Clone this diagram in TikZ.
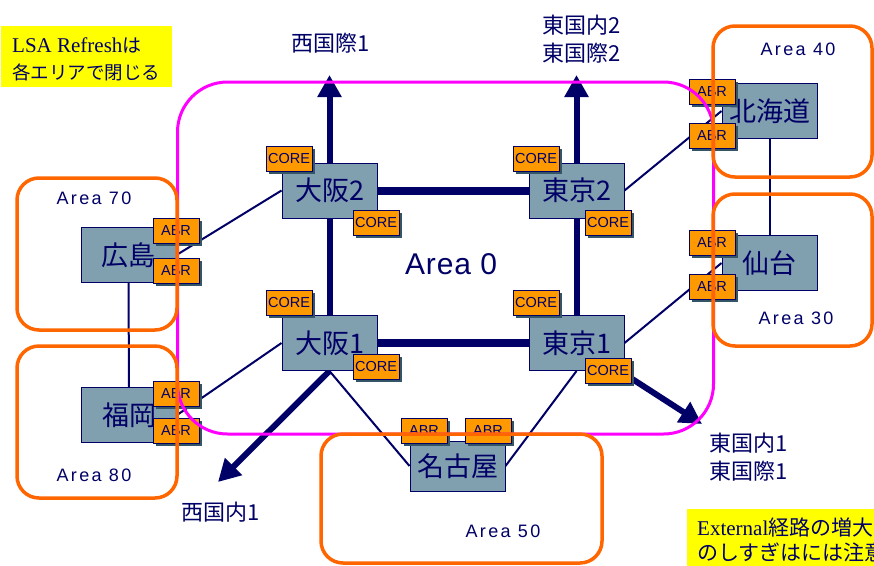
\documentclass[tikz,border=0pt]{standalone}
\usepackage{fontspec}
\setmainfont{Liberation Sans}
\newfontfamily\jp{Noto Sans CJK JP}
\newfontfamily\serif{Liberation Serif}
\newfontfamily\areaf[LetterSpace=13]{Liberation Sans}
\newfontfamily\areab[LetterSpace=3]{Liberation Sans}
\usetikzlibrary{arrows.meta,shadows}
\definecolor{navy}{RGB}{0,0,102}
\definecolor{nodefill}{RGB}{128,159,175}
\definecolor{boxorange}{RGB}{255,153,0}
\definecolor{areaorange}{RGB}{255,102,0}
\definecolor{mag}{RGB}{255,0,255}
\definecolor{shad}{RGB}{51,85,102}
\definecolor{yel}{RGB}{255,255,0}
\pgfdeclarelayer{bg}
\pgfdeclarelayer{fg}
\pgfsetlayers{bg,main,fg}
\tikzset{
  router/.style={draw=navy, line width=1pt, fill=nodefill, minimum width=95pt, minimum height=55pt, inner sep=0pt, font=\jp\fontsize{27}{27}\selectfont, text=navy},
  tagbox/.style={draw=navy, line width=1pt, fill=boxorange, minimum width=46pt, minimum height=25pt, inner sep=0pt, text=navy, font=\fontsize{14.5}{14.5}\selectfont, drop shadow={shadow xshift=2.5pt, shadow yshift=-2.5pt, fill=shad, opacity=1}},
  areabox/.style={draw=areaorange, line width=3.5pt, rounded corners=22pt},
  thinlink/.style={draw=navy, line width=2pt},
  thicklink/.style={draw=navy, line width=8pt},
  vlink/.style={draw=navy, line width=6pt},
  bigarrow/.style={draw=navy, line width=6pt, -{Triangle[width=23pt,length=22pt]}},
  routelabel/.style={text=navy, font=\jp\fontsize{22}{28}\selectfont, align=center, inner sep=0pt},
  arealabel/.style={text=navy, font=\areaf\fontsize{18}{18}\selectfont, inner sep=0pt},
  note/.style={text=navy, inner sep=0pt, anchor=base west}
}
\begin{document}
\begin{tikzpicture}[x=1pt,y=-1pt]
\useasboundingbox (0,0) rectangle (874,565);
\clip (0,0) rectangle (874,565);
% notes
\fill[yel] (1,26) rectangle (172,87);
\node[note] (n1a) at (12,52) {\serif\fontsize{21}{21}\selectfont LSA Refresh\jp\fontsize{19}{19}\selectfont は};
\node[note] (n1b) at (12,79) {\jp\fontsize{18.5}{18.5}\selectfont 各エリアで閉じる};
\fill[yel] (687,509) rectangle (880,570);
\node[note] (n2a) at (697,535) {\serif\fontsize{21}{21}\selectfont External\jp\fontsize{21}{21}\selectfont 経路の増大};
\node[note] (n2b) at (697,560) {\jp\fontsize{21}{21}\selectfont のしすぎはには注意};
% routers
\node[router] (osaka2) at (329.5,190.5) {大阪2};
\node[router] (tokyo2) at (576.5,190.5) {東京2};
\node[router] (osaka1) at (329.5,343) {大阪1};
\node[router] (tokyo1) at (576.5,343) {東京1};
\node[router, minimum height=50pt] (nagoya) at (457.5,466) {名古屋};
\node[router] (hiroshima) at (128.5,255) {広島};
\node[router] (fukuoka) at (129,415) {福岡};
\node[router] (hokkaido) at (769.5,111) {北海道};
\node[router] (sendai) at (769.5,263) {仙台};
% tags
\node[tagbox] (o2a) at (289,159) {CORE};
\node[tagbox] (o2b) at (376,223) {CORE};
\node[tagbox] (t2a) at (536,159) {CORE};
\node[tagbox] (t2b) at (608,223) {CORE};
\node[tagbox] (o1a) at (289,303) {CORE};
\node[tagbox] (o1b) at (376,367) {CORE};
\node[tagbox] (t1a) at (536,303) {CORE};
\node[tagbox] (t1b) at (608,371) {CORE};
\node[tagbox] (ha) at (176,231) {ABR};
\node[tagbox] (hb) at (176,271) {ABR};
\node[tagbox] (fa) at (176,394) {ABR};
\node[tagbox] (fb) at (176,431) {ABR};
\node[tagbox] (ka) at (712,92) {ABR};
\node[tagbox] (kb) at (712,136) {ABR};
\node[tagbox] (sa) at (712,243) {ABR};
\node[tagbox] (sb) at (712,287) {ABR};
\node[tagbox] (na) at (424,431) {ABR};
\node[tagbox] (nb) at (488,431) {ABR};
% endpoints
\coordinate (w1) at (329.5,75);
\coordinate (e2) at (576.5,75);
\coordinate (wd1) at (218,482);
\coordinate (e1) at (702,424);
% links
\begin{pgfonlayer}{bg}
\draw[thinlink] (hiroshima.east) -- (osaka2.west);
\draw[thinlink] (fukuoka.east) -- (osaka1.west);
\draw[thinlink] (tokyo2.east) -- (hokkaido.west);
\draw[thinlink] (tokyo1.east) -- (sendai.west);
\draw[thinlink] (hokkaido.south) -- (sendai.north);
\draw[thinlink] (hiroshima.south) -- (fukuoka.north);
\draw[thinlink] (osaka1.south) -- (nagoya.west);
\draw[thinlink] (tokyo1.south) -- (nagoya.east);
\draw[thicklink] (osaka2.east) -- (tokyo2.west);
\draw[thicklink] (osaka1.east) -- (tokyo1.west);
\draw[vlink] (osaka2.south) -- (osaka1.north);
\draw[vlink] (tokyo2.south) -- (tokyo1.north);
\draw[bigarrow] (osaka2.north) -- (w1);
\draw[bigarrow] (tokyo2.north) -- (e2);
\draw[bigarrow] (osaka1.south) -- (wd1);
\draw[bigarrow] (tokyo1.center) -- (e1);
\end{pgfonlayer}
% labels
\node[routelabel] (lw1) at (331,43) {西国際1};
\node[routelabel] (le2) at (582,39) {東国内2\\東国際2};
\node[routelabel, align=left] (le1) at (749,457) {東国内1\\東国際1};
\node[routelabel] (lwd1) at (221,512) {西国内1};
\node[text=navy, font=\areab\fontsize{30}{30}\selectfont, inner sep=0pt] (a0) at (451,264) {Area 0};
\node[arealabel] (a70) at (94,198) {Area 70};
\node[arealabel] (a80) at (94,475) {Area 80};
\node[arealabel] (a40) at (798,49) {Area 40};
\node[arealabel] (a30) at (796,318) {Area 30};
\node[arealabel] (a50) at (503,531) {Area 50};
% outlines
\begin{pgfonlayer}{fg}
\draw[mag, line width=3pt, rounded corners=50pt] (177.5,82) rectangle (713.5,434);
\draw[areabox] (17,178) rectangle (177,330);
\draw[areabox] (17,346) rectangle (177,498);
\draw[areabox] (713,26) rectangle (872,177);
\draw[areabox] (713,194) rectangle (872,346);
\draw[areabox] (321,434) rectangle (602,563);
\end{pgfonlayer}
\end{tikzpicture}
\end{document}
